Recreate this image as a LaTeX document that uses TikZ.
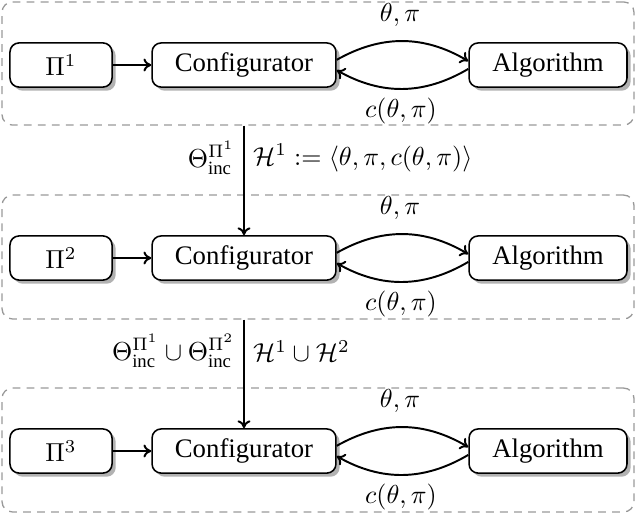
\documentclass[tikz,border=0pt]{standalone}
\usepackage{amsmath}
\usepackage{fontspec}
\setmainfont{Liberation Serif}
\usetikzlibrary{shadows,arrows.meta}
\tikzset{
  box/.style={draw, line width=0.6pt, rounded corners=3.5pt, fill=white,
    minimum height=17pt, inner sep=2pt, font=\fontsize{10.3}{12}\selectfont,
    drop shadow={shadow xshift=1.4pt, shadow yshift=-1.4pt, fill=black!30, opacity=1}},
  group/.style={draw=black!40, dash pattern=on 3pt off 2.4pt, line width=0.5pt,
    rounded corners=4pt, inner sep=0pt},
  conn/.style={line width=0.75pt, -{To[length=3pt,width=5pt]}},
  lbl/.style={inner sep=1pt, font=\fontsize{10.3}{12}\selectfont},
}
\begin{document}
\begin{tikzpicture}[x=0.385pt, y=-0.385pt]
\useasboundingbox (0,0) rectangle (636,514);
% groups
\node[group, minimum width=243.3pt, minimum height=47.4pt] (g1) at (318,63.5) {};
\node[group, minimum width=243.3pt, minimum height=47.7pt] (g2) at (318,257) {};
\node[group, minimum width=243.3pt, minimum height=47.7pt] (g3) at (318,450) {};
% rows
\foreach \i/\y in {1/65, 2/258, 3/451} {
  \node[box, minimum width=39.3pt] (p\i) at (61,\y) {$\Pi^{\i}$};
  \node[box, minimum width=70.8pt] (c\i) at (244,\y) {Configurator};
  \node[box, minimum width=60.8pt] (a\i) at (548,\y) {Algorithm};
  \draw[conn] (p\i) -- (c\i);
  \draw[conn] ([yshift=2pt]c\i.east) to[bend left=30] ([yshift=1.5pt]a\i.west);
  \draw[conn] ([yshift=-1.5pt]a\i.west) to[bend left=30] ([yshift=-2pt]c\i.east);
  \node[lbl] (t\i) at (400,\y-50) {$\theta,\pi$};
  \node[lbl] (b\i) at (401,\y+46) {$c(\theta,\pi)$};
}
% vertical arrows
\draw[conn] (g1.south -| c2.north) -- (c2.north);
\draw[conn] (g2.south -| c3.north) -- (c3.north);
\node[lbl, anchor=east] (l1) at (238,158) {$\Theta^{\Pi^1}_{\text{inc}}$};
\node[lbl, anchor=west] (r1) at (250,158) {$\mathcal{H}^1 := \langle\theta,\pi,c(\theta,\pi)\rangle$};
\node[lbl, anchor=east] (l2) at (238,351) {$\Theta^{\Pi^1}_{\text{inc}}\cup\Theta^{\Pi^2}_{\text{inc}}$};
\node[lbl, anchor=west] (r2) at (250,351) {$\mathcal{H}^1\cup\mathcal{H}^2$};
\end{tikzpicture}
\end{document}
